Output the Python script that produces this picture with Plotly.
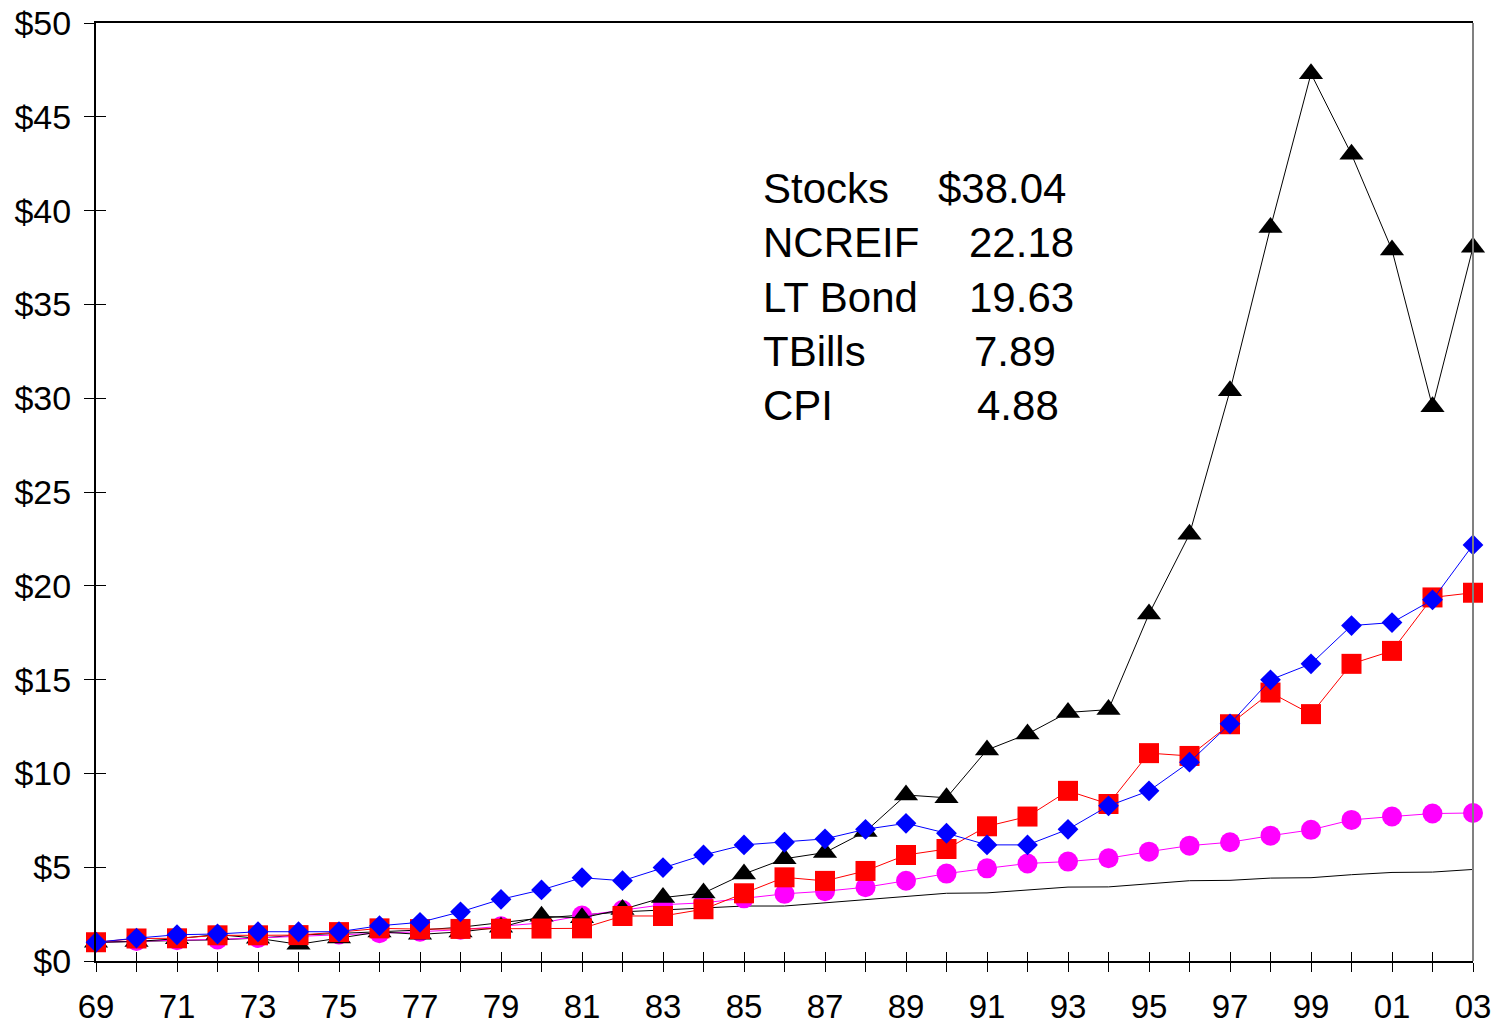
import plotly.graph_objects as go

# Growth of $1 invested at the end of 1968
years = list(range(1969, 2004))
x_tick_labels = [str(y)[-2:] if (y - 1969) % 2 == 0 else "" for y in years]

stocks = [1.00, 1.04, 1.19, 1.41, 1.21, 0.89, 1.22, 1.55, 1.42, 1.55,
          1.80, 2.38, 2.30, 2.75, 3.38, 3.62, 4.64, 5.45, 5.78, 6.90,
          8.85, 8.70, 11.25, 12.10, 13.25, 13.40, 18.50, 22.75, 30.40, 39.10,
          47.30, 43.00, 37.90, 29.55, 38.04]
ncreif = [1.00, 1.22, 1.40, 1.44, 1.56, 1.56, 1.56, 1.88, 2.06, 2.62,
          3.29, 3.79, 4.44, 4.28, 4.98, 5.65, 6.19, 6.33, 6.51, 7.02,
          7.34, 6.81, 6.19, 6.19, 7.02, 8.27, 9.07, 10.60, 12.64, 14.99,
          15.84, 17.88, 18.04, 19.25, 22.18]
lt_bond = [1.00, 1.20, 1.21, 1.37, 1.37, 1.38, 1.54, 1.74, 1.70, 1.71,
           1.72, 1.73, 1.74, 2.40, 2.40, 2.76, 3.61, 4.46, 4.27, 4.80,
           5.65, 5.97, 7.18, 7.70, 9.07, 8.37, 11.08, 10.93, 12.62, 14.31,
           13.16, 15.84, 16.53, 19.38, 19.63]
tbills = [1.00, 1.07, 1.11, 1.15, 1.23, 1.33, 1.41, 1.48, 1.56, 1.67,
          1.85, 2.03, 2.42, 2.72, 3.00, 3.10, 3.34, 3.58, 3.72, 3.93,
          4.28, 4.66, 4.94, 5.20, 5.30, 5.48, 5.83, 6.15, 6.33, 6.68,
          6.99, 7.52, 7.70, 7.86, 7.89]
cpi = [1.00, 1.06, 1.09, 1.13, 1.22, 1.38, 1.47, 1.54, 1.65, 1.80,
       2.03, 2.29, 2.45, 2.62, 2.72, 2.83, 2.93, 2.93, 3.10, 3.29,
       3.45, 3.61, 3.63, 3.79, 3.94, 3.95, 4.12, 4.28, 4.30, 4.42,
       4.44, 4.60, 4.72, 4.74, 4.88]

y_ticks = list(range(0, 55, 5))
y_tick_labels = ["$" + str(v) for v in y_ticks]

legend_names = ["Stocks", "NCREIF", "LT Bond", "TBills", "CPI"]
legend_values = ["$38.04", "22.18", "19.63", "7.89", "4.88"]

FONT = "Liberation Sans, Arial, sans-serif"

fig = go.Figure()

fig.add_trace(go.Scatter(x=years, y=cpi, mode="lines", name="CPI",
                         line=dict(color="black", width=1), cliponaxis=False))
fig.add_trace(go.Scatter(x=years, y=tbills, mode="lines+markers", name="TBills",
                         line=dict(color="#FF00FF", width=1),
                         marker=dict(symbol="circle", size=20, color="#FF00FF",
                                     line=dict(width=0)),
                         cliponaxis=False))
fig.add_trace(go.Scatter(x=years, y=stocks, mode="lines+markers", name="Stocks",
                         line=dict(color="black", width=1),
                         marker=dict(symbol="triangle-up", size=21, color="black",
                                     line=dict(width=0)),
                         cliponaxis=False))
fig.add_trace(go.Scatter(x=years, y=lt_bond, mode="lines+markers", name="LT Bond",
                         line=dict(color="#FF0000", width=1),
                         marker=dict(symbol="square", size=20, color="#FF0000",
                                     line=dict(width=0)),
                         cliponaxis=False))
# NCREIF sits on the overlay axes so it is drawn above the other series
fig.add_trace(go.Scatter(x=years, y=ncreif, mode="lines+markers", name="NCREIF",
                         xaxis="x2", yaxis="y2",
                         line=dict(color="#0000FF", width=1),
                         marker=dict(symbol="diamond", size=16, color="#0000FF",
                                     line=dict(width=0)),
                         cliponaxis=False))

# Summary text block: names in one column, ending values in another
row_y = [188, 242, 297, 351, 405]
val_x = [936, 967, 967, 972, 975]
W, H, L, T = 1377, 938, 96, 23
for name, val, py, vx in zip(legend_names, legend_values, row_y, val_x):
    fig.add_annotation(text=name, xref="paper", yref="paper",
                       x=(761 - L) / W, y=(T + H - py) / H,
                       xanchor="left", yanchor="middle", showarrow=False,
                       font=dict(family=FONT, size=42, color="black"))
    fig.add_annotation(text=val, xref="paper", yref="paper",
                       x=(vx - L) / W, y=(T + H - py) / H,
                       xanchor="left", yanchor="middle", showarrow=False,
                       font=dict(family=FONT, size=42, color="black"))

# right-hand frame edge
fig.add_shape(type="line", xref="paper", yref="paper", x0=1, x1=1, y0=0, y1=1,
              line=dict(color="#808080", width=2))

xrange = [1969, 2003]
yrange = [0, 50]
fig.update_layout(
    width=1501, height=1028,
    margin=dict(l=L, r=28, t=T, b=67),
    paper_bgcolor="white", plot_bgcolor="white",
    showlegend=False,
    font=dict(family=FONT, size=34, color="black"),
    xaxis=dict(range=xrange, tickvals=years, ticktext=x_tick_labels,
               ticks="outside", ticklen=9, tickwidth=1, tickcolor="black",
               showline=True, linecolor="black", linewidth=1.5, mirror=True,
               showgrid=False, zeroline=False, automargin=False,
               ticklabelstandoff=7,
               tickfont=dict(family=FONT, size=33, color="black")),
    xaxis2=dict(range=xrange, overlaying="x", tickvals=years,
                ticks="inside", ticklen=9, tickwidth=1, tickcolor="black",
                showticklabels=False, showline=False, showgrid=False,
                zeroline=False, automargin=False),
    yaxis=dict(range=yrange, tickvals=y_ticks, ticktext=y_tick_labels,
               ticks="outside", ticklen=10, tickwidth=1, tickcolor="black",
               showline=True, linecolor="black", linewidth=2,
               showgrid=False, zeroline=False, automargin=False,
               ticklabelstandoff=6,
               tickfont=dict(family=FONT, size=34, color="black")),
    yaxis2=dict(range=yrange, overlaying="y", side="left", tickvals=y_ticks,
                ticks="inside", ticklen=10, tickwidth=1, tickcolor="black",
                showticklabels=False, showline=False, showgrid=False,
                zeroline=False, automargin=False),
)

fig.write_html("out.html")
